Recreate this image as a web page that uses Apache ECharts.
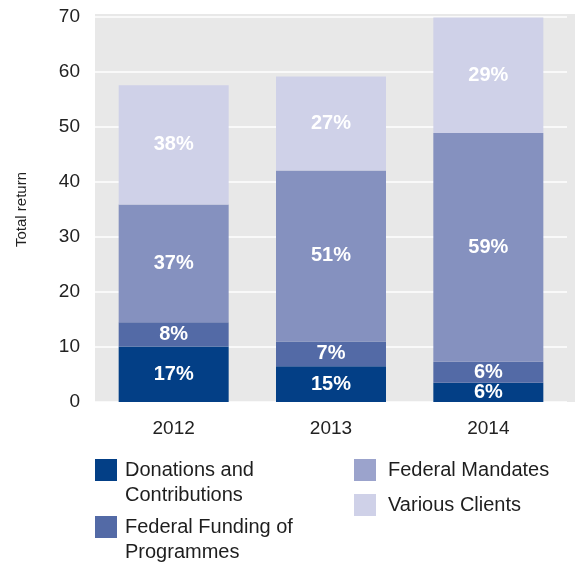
<!DOCTYPE html>
<html lang="en">
<head>
    <meta charset="UTF-8">
    <title>Total return</title>
    <style>
        html, body { margin: 0; padding: 0; background: #fff; }
        .chart { width: 575px; height: 565px; }
    </style>
</head>
<body>
<div class="chart" id="showData"></div>
<script src="https://cdn.jsdelivr.net/npm/echarts@6/dist/echarts.min.js"></script>
<script>
    var years = ['2012', '2013', '2014'];
    var yTicks = [0, 10, 20, 30, 40, 50, 60, 70];

    var seriesNames = ['Donations and Contributions', 'Federal Funding of Programmes', 'Federal Mandates', 'Various Clients'];
    var legendText = ['Donations and\nContributions', 'Federal Funding of\nProgrammes', 'Federal Mandates', 'Various Clients'];
    var colors = ['#033f86', '#536aa6', '#8591bf', '#cfd1e8'];
    var legendColors = ['#033f86', '#536aa6', '#9ba3cc', '#cfd1e8'];

    // stacked heights
    var donations = [10.1, 6.5, 3.5];
    var funding = [4.4, 4.5, 3.8];
    var mandates = [21.4, 31.1, 41.6];
    var various = [21.7, 17.1, 21.0];

    // shares printed inside the bars
    var donationsPct = ['17%', '15%', '6%'];
    var fundingPct = ['8%', '7%', '6%'];
    var mandatesPct = ['37%', '51%', '59%'];
    var variousPct = ['38%', '27%', '29%'];

    var values = [donations, funding, mandates, various];
    var pcts = [donationsPct, fundingPct, mandatesPct, variousPct];

    var font = 'Liberation Sans, Arial, Helvetica, sans-serif';

    var series = [];
    for (var i = 0; i < values.length; i++) {
        (function (k) {
            series.push({
                name: seriesNames[k],
                type: 'bar',
                stack: 'total',
                barWidth: 110,
                itemStyle: { color: colors[k] },
                label: {
                    show: true,
                    position: 'inside',
                    color: '#fff',
                    fontFamily: font,
                    fontWeight: 'bold',
                    fontSize: 20,
                    formatter: function (p) { return pcts[k][p.dataIndex]; }
                },
                data: values[k]
            });
        })(i);
    }

    // two-line entries get a taller icon box with the square at its top
    var tallIcon = 'path://M0,0H22V22H0Z M0,47';

    function legendFor(k, left, top, gap) {
        var twoLines = legendText[k].indexOf('\n') > -1;
        return {
            show: true,
            left: left,
            top: top,
            padding: 0,
            orient: 'vertical',
            icon: twoLines ? tallIcon : 'rect',
            itemWidth: 22,
            itemHeight: twoLines ? 47 : 22,
            selectedMode: false,
            itemStyle: { color: legendColors[k] },
            data: [seriesNames[k]],
            formatter: function () { return legendText[k]; },
            textStyle: {
                fontFamily: font,
                fontSize: 20,
                color: '#1e1e1e',
                lineHeight: 25,
                padding: [0, 0, 0, gap]
            }
        };
    }

    var option = {
        animation: false,
        grid: { left: 95, right: 8, top: 17, bottom: 163 },
        graphic: [{
            type: 'rect',
            z: -10,
            silent: true,
            shape: { x: 95, y: 14, width: 480, height: 388 },
            style: { fill: '#e8e8e8' }
        }],
        legend: [
            legendFor(0, 95, 457.5, 3),
            legendFor(1, 95, 514.5, 3),
            legendFor(2, 354, 457.5, 7),
            legendFor(3, 354, 492.5, 7)
        ],
        xAxis: {
            type: 'category',
            data: years,
            axisLine: { show: false },
            axisTick: { show: false },
            axisLabel: { color: '#222', fontFamily: font, fontSize: 19, margin: 17 }
        },
        yAxis: {
            type: 'value',
            min: yTicks[0],
            max: yTicks[yTicks.length - 1],
            interval: 10,
            name: 'Total return',
            nameLocation: 'middle',
            nameGap: 66,
            nameTextStyle: { color: '#222', fontFamily: font, fontSize: 15 },
            axisLine: { show: false },
            axisTick: { show: false },
            axisLabel: { color: '#222', fontFamily: font, fontSize: 19, margin: 15 },
            splitLine: { show: true, lineStyle: { color: '#ffffff', width: 1.5 } }
        },
        series: series
    };

    var mychart = echarts.init(document.getElementById('showData'));
    mychart.setOption(option);
</script>
</body>
</html>
